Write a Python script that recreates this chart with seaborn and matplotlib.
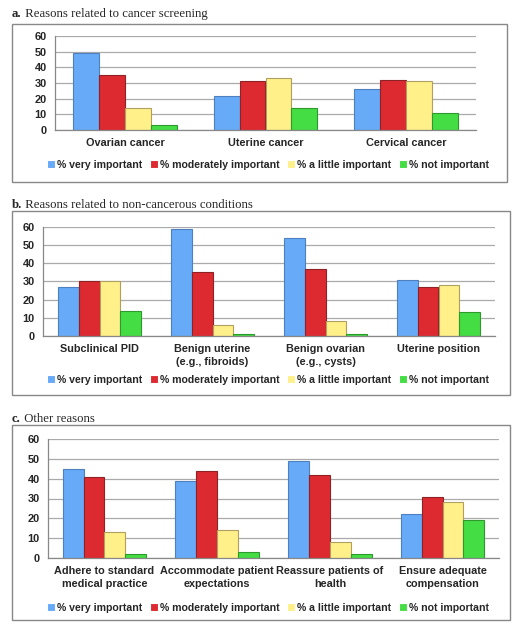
import matplotlib
matplotlib.use("Agg")
import numpy as np
import pandas as pd
import seaborn as sns
import matplotlib.pyplot as plt
from matplotlib.patches import Rectangle

sns.set_theme(style="white")
plt.rcParams["font.family"] = ["Liberation Sans", "DejaVu Sans"]

# data
levels = ["% very important", "% moderately important", "% a little important", "% not important"]
colors = ["#66AAF8", "#DD2A30", "#FFF08A", "#44DD44"]
edges = ["#4E7FBF", "#8E2226", "#B0A060", "#2E9A2E"]

cats_a = ["Ovarian cancer", "Uterine cancer", "Cervical cancer"]
very_a = [49, 22, 26]
mod_a = [35, 31, 32]
little_a = [14, 33, 31]
not_a = [3, 14, 11]

cats_b = ["Subclinical PID", "Benign uterine\n(e.g., fibroids)", "Benign ovarian\n(e.g., cysts)", "Uterine position"]
very_b = [27, 59, 54, 31]
mod_b = [30, 35, 37, 27]
little_b = [30, 6, 8, 28]
not_b = [14, 1, 1, 13]

cats_c = ["Adhere to standard\nmedical practice", "Accommodate patient\nexpectations",
          "Reassure patients of\nhealth", "Ensure adequate\ncompensation"]
very_c = [45, 39, 49, 22]
mod_c = [41, 44, 42, 31]
little_c = [13, 14, 8, 28]
not_c = [2, 3, 2, 19]

titles = [("a.", " Reasons related to cancer screening"),
          ("b.", " Reasons related to non-cancerous conditions"),
          ("c.", " Other reasons")]

W, H = 522, 632
fig = plt.figure(figsize=(W / 100, H / 100), dpi=100)


def fx(x):
    return x / W


def fy(y):
    return 1 - y / H


# pixel layout: axes box, frame box, title y, legend y
panels = [
    dict(cats=cats_a, vals=[very_a, mod_a, little_a, not_a],
         ax=(55, 36, 476, 130), box=(12, 24, 507, 182), ty=14, ly=165),
    dict(cats=cats_b, vals=[very_b, mod_b, little_b, not_b],
         ax=(43, 227, 495, 336), box=(12, 211, 510, 395), ty=205, ly=380),
    dict(cats=cats_c, vals=[very_c, mod_c, little_c, not_c],
         ax=(48, 439, 499, 558), box=(12, 425, 510, 620), ty=419, ly=608),
]

for i, p in enumerate(panels):
    rows = []
    for lev, v in zip(levels, p["vals"]):
        for c, val in zip(p["cats"], v):
            rows.append({"cat": c, "level": lev, "value": val})
    df = pd.DataFrame(rows)

    l, t, r, b = p["ax"]
    ax = fig.add_axes([fx(l), fy(b), fx(r - l), (b - t) / H])
    sns.barplot(data=df, x="cat", y="value", hue="level", order=p["cats"],
                hue_order=levels, palette=colors, width=0.74, ax=ax,
                linewidth=0.8, saturation=1, legend=True)
    for cont, ec in zip(ax.containers, edges):
        for bar in cont:
            bar.set_edgecolor(ec)

    n = len(p["cats"])
    ax.set_xlim(-0.5, n - 0.5)
    ax.set_ylim(0, 60)
    ax.set_yticks(range(0, 61, 10))
    ax.yaxis.grid(True, color="#AAAAAA", linewidth=0.9)
    ax.set_axisbelow(True)
    ax.set_xlabel("")
    ax.set_ylabel("")
    for s in ["top", "right"]:
        ax.spines[s].set_visible(False)
    for s in ["left", "bottom"]:
        ax.spines[s].set_color("#888888")
        ax.spines[s].set_linewidth(0.9)
    ax.set_xticks(range(n))
    ax.set_xticklabels(p["cats"], fontsize=7.8, fontweight="bold", linespacing=1.35)
    ax.set_xticks(np.arange(-0.5, n, 1.0), minor=True)
    ax.tick_params(axis="x", which="major", length=0, pad=6)
    ax.tick_params(axis="x", which="minor", length=4, color="#888888", width=0.9)
    ax.tick_params(axis="y", length=3, color="#888888", pad=3, labelsize=7.9)
    for lab in ax.get_yticklabels():
        lab.set_fontweight("bold")

    handles, labels = ax.get_legend_handles_labels()
    ax.get_legend().remove()
    fig.legend(handles, labels, loc="center", bbox_to_anchor=(fx(268), fy(p["ly"])),
               ncol=4, frameon=False, handlelength=0.75, handleheight=0.75,
               handletextpad=0.2, columnspacing=0.7,
               prop={"weight": "bold", "size": 7.6})

    bl, bt, br, bb = p["box"]
    fig.add_artist(Rectangle((fx(bl), fy(bb)), fx(br - bl), (bb - bt) / H,
                             transform=fig.transFigure, fill=False,
                             edgecolor="#888888", linewidth=1.0))

    bold_t, rest_t = titles[i]
    tb = fig.text(fx(12), fy(p["ty"]), bold_t, fontsize=9.2, fontweight="bold",
                  family="Liberation Serif", va="center", ha="left")
    fig.canvas.draw()
    ext = tb.get_window_extent()
    fig.text(ext.x1 / fig.bbox.width, fy(p["ty"]), rest_t, fontsize=9.2,
             family="Liberation Serif", va="center", ha="left")

fig.savefig("out.png", dpi=100)
